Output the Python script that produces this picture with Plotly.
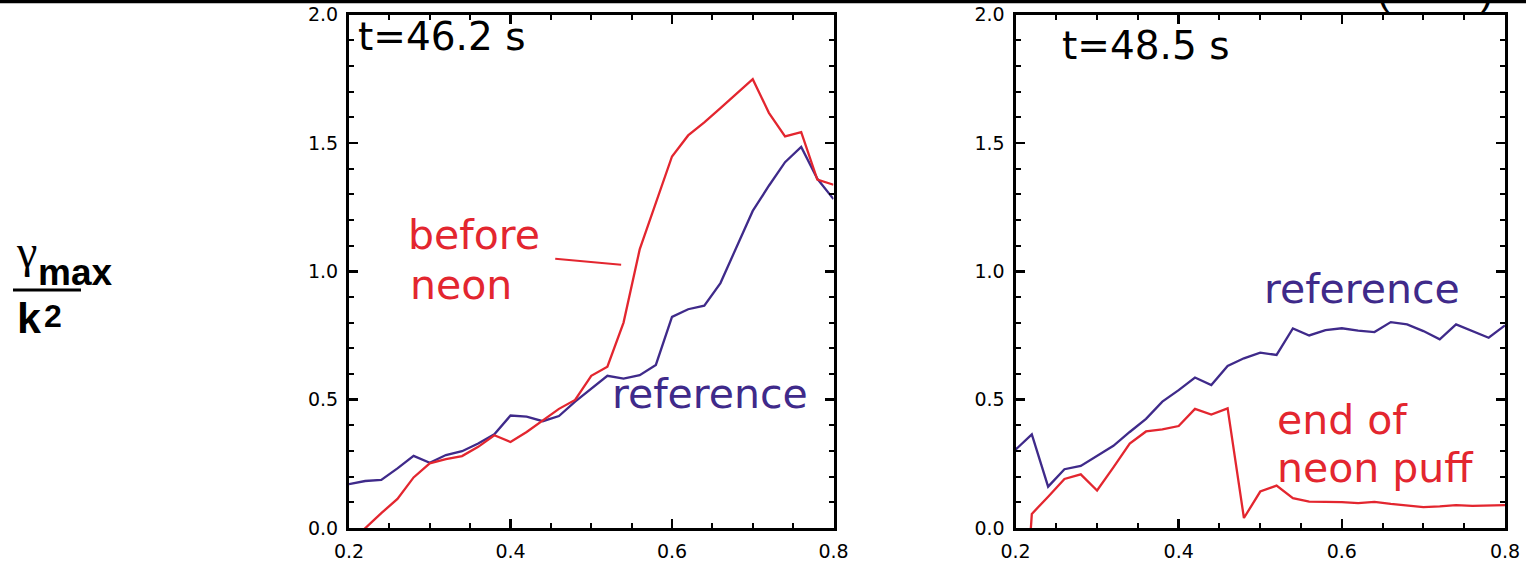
import plotly.graph_objects as go

W, H = 1526, 563

# ---------------- data ----------------
x_vals = [0.20, 0.22, 0.24, 0.26, 0.28, 0.30, 0.32, 0.34, 0.36, 0.38,
          0.40, 0.42, 0.44, 0.46, 0.48, 0.50, 0.52, 0.54, 0.56, 0.58,
          0.60, 0.62, 0.64, 0.66, 0.68, 0.70, 0.72, 0.74, 0.76, 0.78, 0.80]

# t = 46.2 s panel
ref_462 = [0.171, 0.183, 0.187, 0.232, 0.281, 0.254, 0.284, 0.299, 0.329, 0.365,
           0.438, 0.434, 0.416, 0.436, 0.492, 0.541, 0.593, 0.582, 0.595, 0.635,
           0.822, 0.852, 0.866, 0.954, 1.098, 1.235, 1.333, 1.425, 1.484, 1.360, 1.281]
neon_462 = [-0.06, 0.000, 0.058, 0.113, 0.197, 0.252, 0.268, 0.280, 0.316, 0.361,
            0.335, 0.374, 0.419, 0.464, 0.499, 0.593, 0.628, 0.800, 1.085, 1.270,
            1.447, 1.529, 1.580, 1.635, 1.690, 1.748, 1.617, 1.525, 1.542, 1.357, 1.337]

# t = 48.5 s panel
ref_485 = [0.305, 0.365, 0.161, 0.229, 0.242, 0.281, 0.320, 0.374, 0.425, 0.492,
           0.537, 0.586, 0.557, 0.631, 0.661, 0.683, 0.674, 0.777, 0.750, 0.771,
           0.778, 0.769, 0.763, 0.802, 0.793, 0.767, 0.735, 0.793, 0.767, 0.741, 0.789]
neon_485 = [-0.90, 0.055, 0.122, 0.191, 0.209, 0.146, 0.236, 0.329, 0.376, 0.384,
            0.397, 0.464, 0.442, 0.466, 0.039, 0.142, 0.165, 0.116, 0.103, 0.103,
            0.101, 0.097, 0.102, 0.094, 0.088, 0.081, 0.084, 0.089, 0.086, 0.088, 0.089]

x_ticks = [0.2, 0.4, 0.6, 0.8]
x_tick_labels = ["0.2", "0.4", "0.6", "0.8"]
y_ticks = [0.0, 0.5, 1.0, 1.5, 2.0]
y_tick_labels = ["0.0", "0.5", "1.0", "1.5", "2.0"]

panel_titles = ["t=46.2 s", "t=48.5 s"]

RED = "#E3262F"
BLUE = "#3F2A8A"

# ---------------- helpers (pixels -> paper) ----------------
def px(x):
    return x / W

def py(y):
    return 1 - y / H

fig = go.Figure()

fig.add_trace(go.Scatter(x=x_vals, y=ref_462, mode="lines",
                         line=dict(color=BLUE, width=2.3), xaxis="x", yaxis="y",
                         showlegend=False, hoverinfo="skip"))
fig.add_trace(go.Scatter(x=x_vals, y=neon_462, mode="lines",
                         line=dict(color=RED, width=2.3), xaxis="x", yaxis="y",
                         showlegend=False, hoverinfo="skip"))
fig.add_trace(go.Scatter(x=x_vals, y=ref_485, mode="lines",
                         line=dict(color=BLUE, width=2.3), xaxis="x2", yaxis="y2",
                         showlegend=False, hoverinfo="skip"))
fig.add_trace(go.Scatter(x=x_vals, y=neon_485, mode="lines",
                         line=dict(color=RED, width=2.3), xaxis="x2", yaxis="y2",
                         showlegend=False, hoverinfo="skip"))

tickfont = dict(family="DejaVu Sans", size=19, color="black")

def xaxis_cfg(domain, anchor):
    return dict(domain=domain, anchor=anchor, range=[0.2, 0.8],
                tickvals=x_ticks, ticktext=x_tick_labels,
                ticks="inside", ticklen=9, tickwidth=2.5, tickcolor="black",
                minor=dict(dtick=0.05, tick0=0.2, ticks="inside", ticklen=5,
                           tickwidth=2, tickcolor="black", showgrid=False),
                showline=True, linewidth=3, linecolor="black", mirror="ticks",
                showgrid=False, zeroline=False, tickfont=tickfont,
                ticklabelstandoff=4, ticklabeloverflow="allow",
                automargin=False, fixedrange=True)

def yaxis_cfg(domain, anchor):
    return dict(domain=domain, anchor=anchor, range=[0, 2],
                tickvals=y_ticks, ticktext=y_tick_labels,
                ticks="inside", ticklen=9, tickwidth=2.5, tickcolor="black",
                minor=dict(dtick=0.1, tick0=0, ticks="inside", ticklen=5,
                           tickwidth=2, tickcolor="black", showgrid=False),
                showline=True, linewidth=3, linecolor="black", mirror="ticks",
                showgrid=False, zeroline=False, tickfont=tickfont,
                ticklabelstandoff=4, ticklabeloverflow="allow",
                automargin=False, fixedrange=True)

ydom = [py(528), py(14.5)]
fig.update_layout(
    width=W, height=H,
    margin=dict(l=0, r=0, t=0, b=0),
    paper_bgcolor="white", plot_bgcolor="white",
    xaxis=xaxis_cfg([px(349), px(833.5)], "y"),
    yaxis=yaxis_cfg(ydom, "x"),
    xaxis2=xaxis_cfg([px(1015.5), px(1505)], "y2"),
    yaxis2=yaxis_cfg(ydom, "x2"),
)

anns = []

def label(text, x, y, size, color, family="DejaVu Sans", xanchor="left", bold=False):
    anns.append(dict(text=text, x=px(x), y=py(y), xref="paper", yref="paper",
                     xanchor=xanchor, yanchor="middle", showarrow=False,
                     font=dict(family=family, size=size, color=color,
                               weight="bold" if bold else "normal")))

# panel titles
label(panel_titles[0], 356, 36.5, 39, "black")
label(panel_titles[1], 1060, 45.5, 39, "black")

# curve labels
label("before", 406, 235, 41, RED)
label("neon", 408, 285, 41, RED)
label("reference", 610, 394, 41, BLUE)
label("reference", 1262, 289, 41, BLUE)
label("end of", 1275, 420, 41, RED)
label("neon puff", 1275, 468, 41, RED)

# y-axis label: gamma_max / k^2
label("γ", 26, 252, 46, "black", family="Liberation Serif", xanchor="center")
label("max", 36, 272, 37, "black", family="Liberation Sans", bold=True)
label("k", 15, 318, 43, "black", family="Liberation Sans", bold=True)
label("2", 42, 316, 32, "black", family="Liberation Sans", bold=True)

# cut-off parentheses at the very top right
for xp, ch in [(1384, "("), (1486, ")")]:
    anns.append(dict(text=ch, x=px(xp), y=py(15), xref="paper", yref="paper",
                     xanchor="center", yanchor="bottom", showarrow=False,
                     font=dict(family="Liberation Sans", size=40, color="black")))

fig.update_layout(annotations=anns)

shapes = [
    # pointer from "before neon" to its curve
    dict(type="line", xref="x", yref="y", x0=0.4554, y0=1.049, x1=0.537, y1=1.025,
         line=dict(color=RED, width=2)),
    # fraction bar of the y label
    dict(type="line", xref="paper", yref="paper", x0=px(13), x1=px(81),
         y0=py(290), y1=py(290), line=dict(color="black", width=3)),
    # top rule
    dict(type="line", xref="paper", yref="paper", x0=0, x1=1,
         y0=py(1.5), y1=py(1.5), line=dict(color="black", width=3.5)),
]
fig.update_layout(shapes=shapes)

# remove the default page margin so the figure fills the window exactly
fig.write_html("out.html",
               config={"displayModeBar": False, "staticPlot": True},
               post_script="document.body.style.margin='0';document.body.style.overflow='hidden';")
